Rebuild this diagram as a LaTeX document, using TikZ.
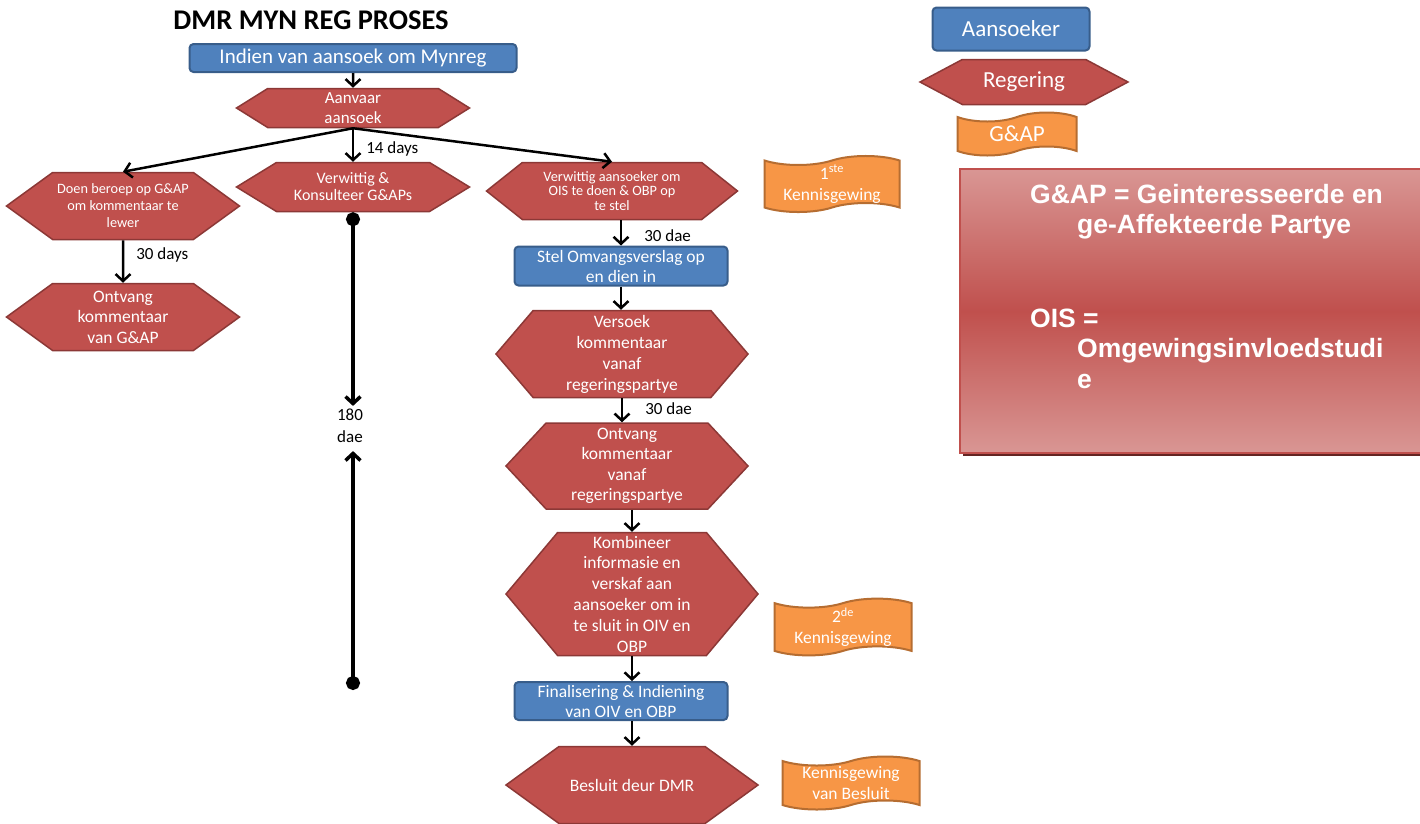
\documentclass[tikz,border=0pt]{standalone}
\usepackage{fontspec}
\setmainfont{Carlito}
\newfontfamily\legendfont{Liberation Sans}
\usetikzlibrary{shapes.symbols,arrows.meta}
\definecolor{hexred}{RGB}{192,80,77}
\definecolor{hexline}{RGB}{140,56,54}
\definecolor{boxblue}{RGB}{79,129,189}
\definecolor{boxline}{RGB}{56,93,138}
\definecolor{flagorange}{RGB}{247,150,70}
\definecolor{flagline}{RGB}{182,109,49}
\definecolor{legpink}{RGB}{217,150,148}
\definecolor{legshadow}{RGB}{99,37,35}
\newcommand{\fsz}[2]{\fontsize{#1}{#2}\selectfont}
\begin{document}
\begin{tikzpicture}[x=1pt, y=-1pt,
    bluebox/.style={rectangle, rounded corners=4pt, draw=boxline, line width=2pt, fill=boxblue, text=white, align=center, inner sep=0pt},
    hexbox/.style={signal, signal to=east and west, draw=hexline, line width=1.5pt, fill=hexred, text=white, align=center, inner sep=0pt},
    flagbox/.style={tape, tape bend height=9pt, draw=flagline, line width=2pt, fill=flagorange, text=white, align=center, inner sep=0pt},
    flow/.style={line width=2.5pt, -{Straight Barb[length=7pt,width=15pt]}},
    timeline/.style={line width=3.5pt, {Circle[length=14pt]}-{Straight Barb[length=7pt,width=15pt]}},
    daylabel/.style={font=\fsz{17}{20}, inner sep=0pt, anchor=west}]
  \useasboundingbox (0,0) rectangle (1420,823);
  \node[font=\fsz{28.5}{30}\bfseries] (title) at (311,20) {DMR MYN REG PROSES};
  \node[bluebox, minimum width=327pt, minimum height=28pt, font=\fsz{21}{24}] (indien) at (353,58) {Indien van aansoek om Mynreg};
  \node[hexbox, signal pointer angle=64, minimum width=233pt, minimum height=39pt, font=\fsz{17}{20}] (aanvaar) at (353,108) {Aanvaar\\aansoek};
  \node[hexbox, signal pointer angle=72, minimum width=233pt, minimum height=67pt, font=\fsz{14.3}{17}] (beroep) at (123,206) {Doen beroep op G\&AP\\om kommentaar te\\lewer};
  \node[hexbox, signal pointer angle=63, minimum width=233pt, minimum height=49pt, font=\fsz{16}{17}] (konsulteer) at (353,187) {Verwittig \&\\Konsulteer G\&APs};
  \node[hexbox, signal pointer angle=77, minimum width=251pt, minimum height=57pt, font=\fsz{14.3}{14.5}] (verwittig) at (612,191) {Verwittig aansoeker om\\OIS te doen \& OBP op\\te stel};
  \node[flagbox, minimum width=135pt, minimum height=54pt, font=\fsz{17.5}{21}] (kennis1) at (832,184) {1\textsuperscript{ste}\\Kennisgewing};
  \node[hexbox, signal pointer angle=72, minimum width=233pt, minimum height=67pt, font=\fsz{17.5}{20.5}] (ontvangGAP) at (123,317) {Ontvang\\kommentaar\\van G\&AP};
  \node[bluebox, minimum width=213pt, minimum height=39pt, font=\fsz{17.5}{20}] (stel) at (621,266) {Stel Omvangsverslag op\\en dien in};
  \node[hexbox, signal pointer angle=99, minimum width=252pt, minimum height=87pt, font=\fsz{17.5}{21}] (versoek) at (622,354) {Versoek\\kommentaar\\vanaf\\regeringspartye};
  \node[hexbox, signal pointer angle=94, minimum width=242pt, minimum height=86pt, font=\fsz{17.5}{20.5}] (ontvangReg) at (627,466) {Ontvang\\kommentaar\\vanaf\\regeringspartye};
  \node[hexbox, signal pointer angle=100, minimum width=252pt, minimum height=123pt, font=\fsz{17.5}{20.8}] (kombineer) at (632,594) {Kombineer\\informasie en\\verskaf aan\\aansoeker om in\\te sluit in OIV en\\OBP};
  \node[flagbox, minimum width=137pt, minimum height=55pt, font=\fsz{17.5}{21}] (kennis2) at (843,627) {2\textsuperscript{de}\\Kennisgewing};
  \node[bluebox, minimum width=213pt, minimum height=38pt, font=\fsz{17.5}{20}] (finaal) at (621,701) {Finalisering \& Indiening\\van OIV en OBP};
  \node[hexbox, signal pointer angle=72, minimum width=252pt, minimum height=77pt, font=\fsz{17.5}{21}] (besluit) at (632,785) {Besluit deur DMR};
  \node[flagbox, minimum width=137pt, minimum height=53pt, font=\fsz{17.5}{21}] (kennis3) at (851,783) {Kennisgewing\\van Besluit};
  \node[font=\fsz{17}{22}, align=center, inner sep=0pt] (dae) at (350,426) {180\\dae};
  \coordinate (bodem) at (353,690);
  \draw[flow] (indien) -- (aanvaar);
  \draw[flow] (aanvaar.south) -- (beroep.north);
  \draw[flow] (aanvaar.south) -- (konsulteer.north) node[daylabel, midway, xshift=12pt, yshift=-4pt] {14 days};
  \draw[flow] (aanvaar.south) -- (verwittig.north);
  \draw[flow] (beroep) -- (ontvangGAP) node[daylabel, midway, xshift=12pt, yshift=7pt] {30 days};
  \draw[timeline, shorten >=3pt] (konsulteer.south) -- (konsulteer.south |- dae.north);
  \draw[timeline, shorten >=8pt] (bodem) -- (bodem |- dae.south);
  \draw[flow] (verwittig.south -| stel.north) -- (stel.north) node[daylabel, midway, xshift=22pt, yshift=-3pt] {30 dae};
  \draw[flow] (stel.south) -- (stel.south |- versoek.north);
  \draw[flow] (versoek.south) -- (versoek.south |- ontvangReg.north) node[daylabel, midway, xshift=22pt, yshift=2pt] {30 dae};
  \draw[flow] (ontvangReg.south -| kombineer.north) -- (kombineer.north);
  \draw[flow] (kombineer.south) -- (kombineer.south |- finaal.north);
  \draw[flow] (finaal.south -| besluit.north) -- (besluit.north);
  \node[bluebox, minimum width=157pt, minimum height=43pt, font=\fsz{23}{26}] (aansoeker) at (1011,29) {Aansoeker};
  \node[hexbox, signal pointer angle=56, minimum width=208pt, minimum height=45pt, font=\fsz{23}{26}] (regering) at (1024,82) {Regering};
  \node[flagbox, minimum width=119pt, minimum height=43pt, font=\fsz{23}{26}] (gap) at (1017,134) {G\&AP};
  \fill[legshadow] (963,172) rectangle (1420,456);
  \node[draw=hexred, line width=2pt, top color=legpink, bottom color=legpink, middle color=hexred, minimum width=461pt, minimum height=284pt, anchor=north west, inner sep=0pt] (verklaring) at (959,168) {};
  \node[font=\legendfont\bfseries\fsz{26.5}{30.5}, text=white, align=left, anchor=north west, inner sep=0pt] (afkortings) at (1030,184) {G\&AP = Geinteresseerde en\\\hspace*{47pt}ge-Affekteerde Partye\\[63pt]OIS =\\\hspace*{47pt}Omgewingsinvloedstudi\\\hspace*{47pt}e};
\end{tikzpicture}
\end{document}
